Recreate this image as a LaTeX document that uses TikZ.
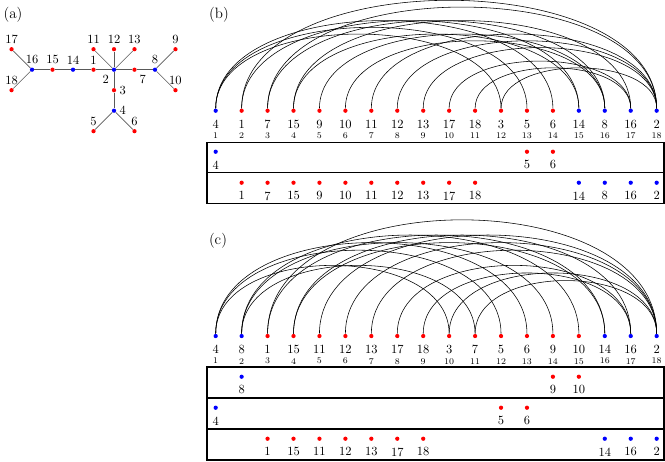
\documentclass[tikz,border=0pt]{standalone}
\usepackage{xcolor}
\usepackage{tikz}
\usetikzlibrary{positioning}
\tikzset{
	vdot/.style = {
		circle,
		inner sep = 0pt,
		minimum size = 3.4pt,
		fill = #1,
	},
	numlabel/.style = {
		inner sep = 0pt,
		font = \normalsize,
	},
	poslabel/.style = {
		inner sep = 0pt,
		font = \scriptsize,
	},
	panellabel/.style = {
		inner sep = 0pt,
		font = \large,
	},
	treeedge/.style = {
		draw = black!65,
		line width = 0.5pt,
	},
	arcline/.style = {
		draw = black,
		line width = 0.45pt,
	},
	rowbox/.style = {
		draw = black,
		line width = 0.9pt,
	},
}

\begin{document}
\begin{tikzpicture}[x = 20.75pt, y = 20.75pt]
	\useasboundingbox (-8.315,-13.504) rectangle (17.321,4.268);

	% (a) the tree
	\node[panellabel](lbla) at (-7.814,3.709) {(a)};
	\begin{scope}[shift = {(-3.92,1.581)}, scale = 0.79]
		\foreach \v/\x/\y/\c/\a in {2/0/0/blue/225, 1/-1/0/red/90, 14/-2/0/blue/90, 15/-3/0/red/90,
			16/-4/0/blue/90, 17/-5/1/red/90, 18/-5/-1/red/90, 11/-1/1/red/90, 12/0/1/red/90,
			13/1/1/red/90, 7/1/0/red/-45, 8/2/0/blue/90, 9/3/1/red/90, 10/3/-1/red/90,
			3/0/-1/red/0, 4/0/-2/blue/0, 5/-1/-3/red/90, 6/1/-3/red/90}
			\node[vdot = \c, label = {[label distance = -1pt]\a:\v}](t\v) at (\x,\y) {};
		\foreach \u/\v in {16/17, 16/18, 16/15, 15/14, 14/1, 1/2, 2/11, 2/12, 2/13,
			2/7, 7/8, 8/9, 8/10, 2/3, 3/4, 4/5, 4/6}
			\draw[treeedge](t\u)--(t\v);
	\end{scope}

	% (b)
	\node[panellabel](lblb) at (0.127,3.709) {(b)};
	\foreach \p/\v/\c in {1/4/blue, 2/1/red, 3/7/red, 4/15/red, 5/9/red, 6/10/red, 7/11/red,
		8/12/red, 9/13/red, 10/17/red, 11/18/red, 12/3/red, 13/5/red, 14/6/red,
		15/14/blue, 16/8/blue, 17/16/blue, 18/2/blue} {
		\node[vdot = \c](b\v) at (\p-1,0) {};
		\node[numlabel, below = 5.5pt of b\v](bl\v) {\v};
		\node[poslabel, below = 2.9pt of bl\v](bp\v) {\p};
	}
	\foreach \u/\v in {17/16, 18/16, 16/15, 15/14, 14/1, 1/2, 11/2, 12/2, 13/2,
		2/7, 7/8, 8/9, 8/10, 2/3, 3/4, 4/5, 4/6}
		\draw[arcline](b\u) to[out = 90, in = 90, looseness = 0.89] (b\v);

	\draw[rowbox] (-0.335,-1.218) rectangle (17.28,-2.375);
	\draw[rowbox] (-0.335,-2.375) rectangle (17.28,-3.570);
	\foreach \p/\v/\c in {1/4/blue, 13/5/red, 14/6/red} {
		\node[vdot = \c](bra\v) at (\p-1,-1.581) {};
		\node[numlabel, below = 5pt of bra\v](bral\v) {\v};
	}
	\foreach \p/\v/\c in {2/1/red, 3/7/red, 4/15/red, 5/9/red, 6/10/red, 7/11/red, 8/12/red,
		9/13/red, 10/17/red, 11/18/red, 15/14/blue, 16/8/blue, 17/16/blue, 18/2/blue} {
		\node[vdot = \c](brb\v) at (\p-1,-2.776) {};
		\node[numlabel, below = 5pt of brb\v](brbl\v) {\v};
	}

	% (c)
	\node[panellabel](lblc) at (0.089,-5.004) {(c)};
	\foreach \p/\v/\c in {1/4/blue, 2/8/blue, 3/1/red, 4/15/red, 5/11/red, 6/12/red, 7/13/red,
		8/17/red, 9/18/red, 10/3/red, 11/7/red, 12/5/red, 13/6/red, 14/9/red,
		15/10/red, 16/14/blue, 17/16/blue, 18/2/blue} {
		\node[vdot = \c](c\v) at (\p-1,-8.686) {};
		\node[numlabel, below = 5.5pt of c\v](cl\v) {\v};
		\node[poslabel, below = 2.9pt of cl\v](cp\v) {\p};
	}
	\foreach \u/\v in {17/16, 18/16, 16/15, 15/14, 14/1, 1/2, 11/2, 12/2, 13/2,
		2/7, 7/8, 8/9, 8/10, 2/3, 3/4, 4/5, 4/6}
		\draw[arcline](c\u) to[out = 90, in = 90, looseness = 1] (c\v);

	\draw[rowbox] (-0.335,-9.881) rectangle (17.28,-11.076);
	\draw[rowbox] (-0.335,-11.076) rectangle (17.28,-12.271);
	\draw[rowbox] (-0.335,-12.271) rectangle (17.28,-13.466);
	\foreach \p/\v/\c in {2/8/blue, 14/9/red, 15/10/red} {
		\node[vdot = \c](cra\v) at (\p-1,-10.255) {};
		\node[numlabel, below = 5pt of cra\v](cral\v) {\v};
	}
	\foreach \p/\v/\c in {1/4/blue, 12/5/red, 13/6/red} {
		\node[vdot = \c](crb\v) at (\p-1,-11.450) {};
		\node[numlabel, below = 5pt of crb\v](crbl\v) {\v};
	}
	\foreach \p/\v/\c in {3/1/red, 4/15/red, 5/11/red, 6/12/red, 7/13/red, 8/17/red, 9/18/red,
		16/14/blue, 17/16/blue, 18/2/blue} {
		\node[vdot = \c](crc\v) at (\p-1,-12.645) {};
		\node[numlabel, below = 5pt of crc\v](crcl\v) {\v};
	}
\end{tikzpicture}
\end{document}
